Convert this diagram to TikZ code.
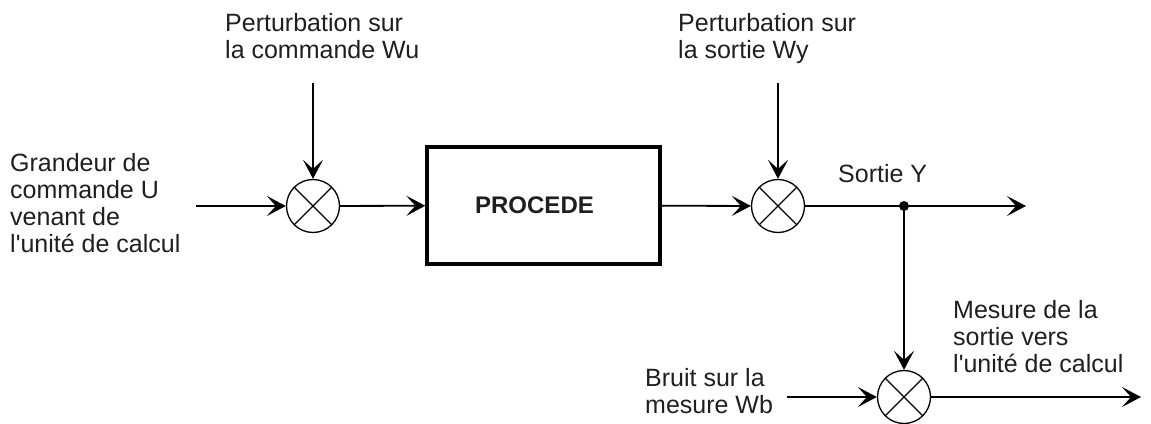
\documentclass[tikz,border=0pt]{standalone}
\usepackage{fontspec}
\setmainfont{Liberation Sans}
\usetikzlibrary{arrows.meta}

\begin{document}
\begin{tikzpicture}[x=1pt,y=-1pt,
  txt/.style={anchor=base west, inner sep=0pt, align=left, text=black!88,
              font=\fontsize{25}{27}\selectfont},
  sum/.style={circle, draw, line width=1.3pt, minimum size=53pt, inner sep=0pt,
              path picture={
                \draw[line width=1.3pt] (path picture bounding box.north west) -- (path picture bounding box.south east)
                      (path picture bounding box.north east) -- (path picture bounding box.south west);}},
  proc/.style={draw, line width=3.3pt, minimum width=233pt, minimum height=117pt, inner sep=0pt},
  arr/.style={line width=1.8pt, -{Stealth[length=19pt, width=20pt, inset=9pt]}}
]
\useasboundingbox (0,0) rectangle (1151,423);

% summing junctions and the process block
\node[sum] (s1) at (313,206) {};
\node[sum] (s2) at (778,206) {};
\node[sum] (s3) at (904,397) {};
\node[proc, label={[xshift=-9pt, font=\fontsize{24}{27}\selectfont\bfseries, text=black!88]center:PROCEDE}] (p) at (543.5,205.5) {};

% free ends of the signals
\coordinate (in)   at (196,206);
\coordinate (wu)   at (313,83);
\coordinate (wy)   at (778,83);
\coordinate (out)  at (1026,206);
\coordinate (j)    at (904,206);
\coordinate (wb)   at (787,397);
\coordinate (mout) at (1141,397);

% signal flow
\draw[arr] (in) -- (s1);
\draw[arr] (wu) -- (s1);
\draw[arr] (s1) -- (p);
\draw[arr] (p) -- (s2);
\draw[arr] (wy) -- (s2);
\draw[arr] (s2) -- (out);
\fill (j) circle (5pt);
\draw[arr] (j) -- (s3);
\draw[arr] (wb) -- (s3);
\draw[arr] (s3) -- (mout);

% labels (anchored on the baseline of their last line)
\node[txt] (tu)  at (10,252)  {Grandeur de\\commande U\\venant de\\l\textquotesingle unité de calcul};
\node[txt] (twu) at (225,58)  {Perturbation sur\\la commande Wu};
\node[txt] (twy) at (678,58)  {Perturbation sur\\la sortie Wy};
\node[txt] (ty)  at (838,182) {Sortie Y};
\node[txt] (twb) at (645,413) {Bruit sur la\\mesure Wb};
\node[txt] (tm)  at (953,372) {Mesure de la\\sortie vers\\l\textquotesingle unité de calcul};
\end{tikzpicture}
\end{document}
